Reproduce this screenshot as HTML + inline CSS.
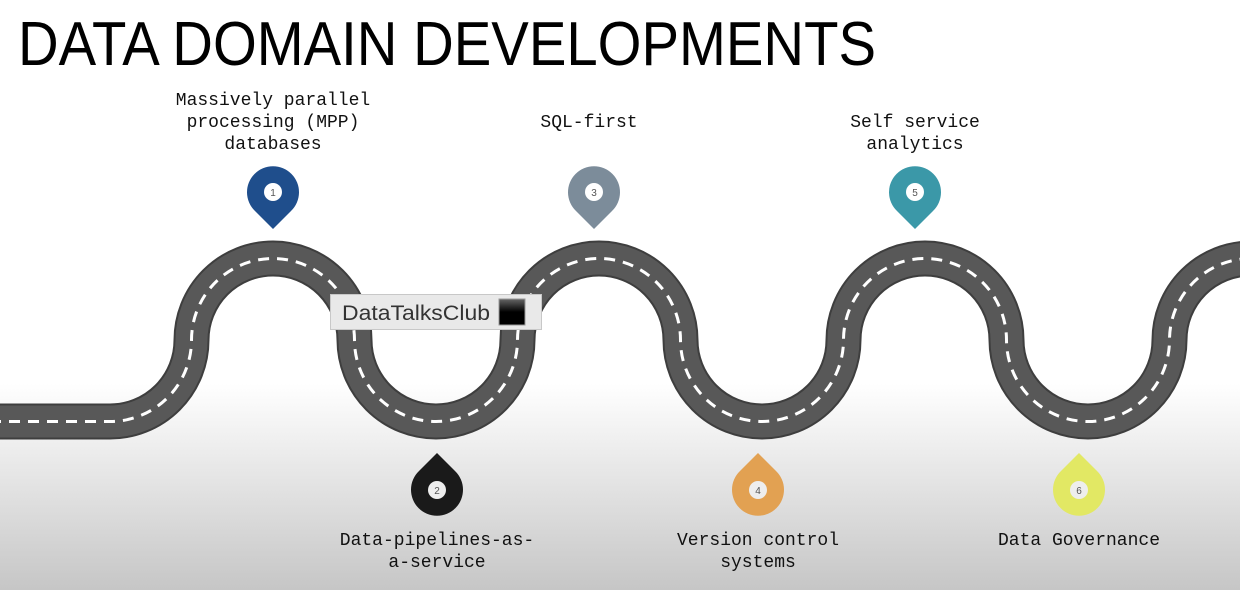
<!DOCTYPE html>
<html><head><meta charset="utf-8"><style>
html,body{margin:0;padding:0;width:1240px;height:590px;overflow:hidden}
svg{display:block}
</style></head><body>
<svg width="1240" height="590" viewBox="0 0 1240 590" xmlns="http://www.w3.org/2000/svg">
<defs>
<linearGradient id="bg" x1="0" y1="0" x2="0" y2="1">
<stop offset="0" stop-color="#fff"/><stop offset="0.65" stop-color="#fff"/><stop offset="1" stop-color="#c6c6c6"/>
</linearGradient>
<linearGradient id="sq" x1="0" y1="0" x2="0" y2="1">
<stop offset="0" stop-color="#666"/><stop offset="0.5" stop-color="#000"/><stop offset="1" stop-color="#000"/>
</linearGradient>
</defs>
<rect width="1240" height="590" fill="url(#bg)"/>
<text x="18" y="65" font-family="Liberation Sans, sans-serif" font-size="62" textLength="858" lengthAdjust="spacingAndGlyphs" fill="#000">DATA DOMAIN DEVELOPMENTS</text>

<g fill="none">
<path d="M-10 421.5 L110 421.5 A81.5 81.5 0 0 0 191.5 340 A81.5 81.5 0 0 1 354.5 340 A81.5 81.5 0 0 0 517.5 340 A81.5 81.5 0 0 1 680.5 340 A81.5 81.5 0 0 0 843.5 340 A81.5 81.5 0 0 1 1006.5 340 A81.5 81.5 0 0 0 1169.5 340 A81.5 81.5 0 0 1 1332.5 340" stroke="#3e3e3e" stroke-width="36"/>
<path d="M-10 421.5 L110 421.5 A81.5 81.5 0 0 0 191.5 340 A81.5 81.5 0 0 1 354.5 340 A81.5 81.5 0 0 0 517.5 340 A81.5 81.5 0 0 1 680.5 340 A81.5 81.5 0 0 0 843.5 340 A81.5 81.5 0 0 1 1006.5 340 A81.5 81.5 0 0 0 1169.5 340 A81.5 81.5 0 0 1 1332.5 340" stroke="#585858" stroke-width="32"/>
<path d="M-10 421.5 L110 421.5 A81.5 81.5 0 0 0 191.5 340 A81.5 81.5 0 0 1 354.5 340 A81.5 81.5 0 0 0 517.5 340 A81.5 81.5 0 0 1 680.5 340 A81.5 81.5 0 0 0 843.5 340 A81.5 81.5 0 0 1 1006.5 340 A81.5 81.5 0 0 0 1169.5 340 A81.5 81.5 0 0 1 1332.5 340" stroke="#fff" stroke-width="3" stroke-dasharray="11 8"/>
</g>

<g font-family="Liberation Mono, monospace" font-size="18" fill="#111" text-anchor="middle">
<text x="273" y="105">Massively parallel</text>
<text x="273" y="127">processing (MPP)</text>
<text x="273" y="149">databases</text>
<text x="589" y="127">SQL-first</text>
<text x="915" y="127">Self service</text>
<text x="915" y="149">analytics</text>
<text x="437" y="545">Data-pipelines-as-</text>
<text x="437" y="567">a-service</text>
<text x="758" y="545">Version control</text>
<text x="758" y="567">systems</text>
<text x="1079" y="545">Data Governance</text>
</g>

<g font-family="Liberation Sans, sans-serif" font-size="10" text-anchor="middle" fill="#555">
<path d="M273 229 L255 211 A26 26 0 1 1 291 211 Z" fill="#1f4e8c"/>
<circle cx="273" cy="192" r="9" fill="#fff"/><text x="273" y="196">1</text>
<path d="M594 229 L576 211 A26 26 0 1 1 612 211 Z" fill="#7c8c9a"/>
<circle cx="594" cy="192" r="9" fill="#fff"/><text x="594" y="196">3</text>
<path d="M915 229 L897 211 A26 26 0 1 1 933 211 Z" fill="#3b98a8"/>
<circle cx="915" cy="192" r="9" fill="#fff"/><text x="915" y="196">5</text>
<path d="M437 453 L455 471 A26 26 0 1 1 419 471 Z" fill="#1a1a1a"/>
<circle cx="437" cy="490" r="9" fill="#eee"/><text x="437" y="494">2</text>
<path d="M758 453 L776 471 A26 26 0 1 1 740 471 Z" fill="#e2a152"/>
<circle cx="758" cy="490" r="9" fill="#eee"/><text x="758" y="494">4</text>
<path d="M1079 453 L1097 471 A26 26 0 1 1 1061 471 Z" fill="#e2e864"/>
<circle cx="1079" cy="490" r="9" fill="#eee"/><text x="1079" y="494">6</text>
</g>

<rect x="330.5" y="294.5" width="211" height="35" fill="#e9e9e9" stroke="#c8c8c8"/>
<text x="342" y="320" font-family="Liberation Sans, sans-serif" font-size="21" textLength="148" lengthAdjust="spacingAndGlyphs" fill="#333">DataTalksClub</text>
<rect x="499" y="299" width="26" height="26" fill="url(#sq)" stroke="#999" stroke-width="1"/>
</svg>
</body></html>
